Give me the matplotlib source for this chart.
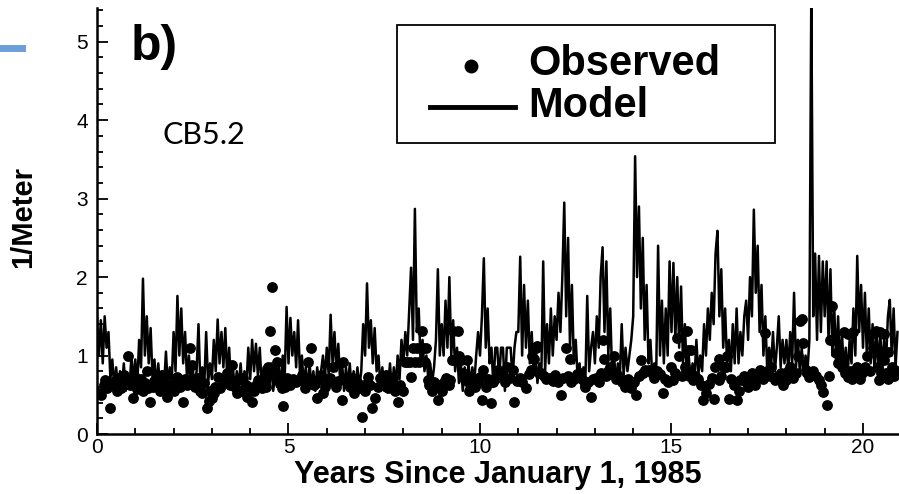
import numpy as np
import matplotlib
matplotlib.use("Agg")
import matplotlib.pyplot as plt
from matplotlib.lines import Line2D
from matplotlib.patches import Rectangle

# ---------------- data ----------------
model_step = 0.05  # years between model samples
model_values = (
    [1.5,1.0,1.45,0.9,1.5,1.1,1.3,0.7,0.95,0.6,0.85,0.55,0.8,0.6,0.9,0.55,0.75,0.6,1.0,0.65] +
    [0.95,0.6,1.2,0.85,1.98,1.0,1.5,0.9,1.35,0.7,0.95,0.6,0.9,0.55,0.8,0.6,1.05,0.6,0.85,0.65] +
    [1.3,0.8,1.76,1.0,1.6,0.9,1.3,0.7,1.0,0.6,0.85,0.55,0.8,1.4,0.6,0.85,0.6,1.3,0.65,0.9] +
    [0.7,1.2,0.8,1.46,0.9,1.3,0.85,1.35,0.7,1.1,0.6,0.85,0.55,0.8,0.6,0.9,0.55,0.8,0.6,1.1] +
    [0.7,1.2,0.8,1.15,0.75,1.1,0.6,0.85,0.55,0.8,0.6,0.9,0.55,0.75,0.6,0.85,0.6,1.0,0.7,1.62] +
    [0.9,1.48,1.0,1.3,0.85,1.45,0.75,1.0,0.6,0.85,0.55,0.9,0.6,0.8,0.55,0.85,0.6,0.8,1.0,0.7] +
    [1.1,0.75,1.52,0.9,1.3,0.8,1.15,0.65,0.9,0.55,0.85,0.6,0.9,0.55,0.8,0.6,0.85,0.6,0.8,1.4] +
    [1.0,1.92,1.1,1.45,0.9,1.35,0.8,1.0,0.6,0.85,0.55,0.8,0.6,0.9,0.55,0.85,0.6,1.0,0.7,1.2] +
    [0.9,1.3,1.0,1.55,2.12,1.2,2.87,1.3,1.6,0.9,1.2,0.8,1.0,0.7,0.9,0.65,0.85,1.2,2.1,1.0] +
    [1.4,1.0,1.7,1.1,2.0,1.0,1.45,0.8,1.1,0.65,0.9,0.55,0.85,0.6,0.9,0.6,0.85,0.65,1.0,1.3] +
    [1.0,1.5,2.24,1.1,1.6,0.9,1.1,0.6,1.1,1.1,0.7,1.1,1.1,0.55,1.1,1.1,1.1,0.7,1.1,1.3] +
    [1.3,2.26,1.0,1.9,1.1,1.7,0.9,1.3,0.75,1.0,0.65,0.9,0.7,2.2,0.8,1.4,0.9,1.6,1.0,1.5] +
    [1.2,1.8,1.3,2.0,2.95,1.5,2.5,1.1,1.9,0.9,1.2,0.7,0.9,0.6,0.85,0.65,1.76,0.8,1.1,1.3] +
    [0.9,1.5,1.1,2.0,2.38,1.3,2.2,1.0,1.6,0.75,1.0,0.65,0.9,0.7,1.4,0.75,1.1,0.8,1.0,1.2] +
    [1.5,3.54,2.0,2.9,1.6,2.5,1.2,1.9,0.9,1.2,0.7,0.9,0.75,2.4,1.0,1.7,0.9,1.6,1.0,2.2] +
    [1.3,2.18,1.2,2.0,1.1,1.88,0.9,1.4,0.75,1.0,0.65,0.9,0.7,1.2,0.75,1.0,0.8,1.4,1.0,1.6] +
    [1.2,1.8,1.4,2.3,2.59,1.5,2.1,1.1,1.6,0.9,1.2,0.8,1.4,0.9,1.6,0.9,1.3,1.0,1.5,1.7] +
    [1.2,2.0,1.5,2.86,1.8,2.4,1.3,1.9,1.0,1.5,0.8,1.1,0.85,1.3,0.8,1.1,1.5,0.85,1.2,0.9] +
    [1.2,0.8,1.3,0.9,1.8,0.85,1.2,0.8,1.1,0.75,1.0,0.8,1.2,5.6,1.5,2.3,1.2,2.27,1.3,2.2] +
    [1.5,2.2,1.2,2.1,1.0,1.6,0.9,1.5,0.8,1.3,0.8,1.1,0.75,1.2,0.9,1.6,1.0,2.27,1.3,1.9] +
    [1.1,1.8,1.0,1.6,0.9,1.4,0.8,1.3,0.85,1.3,0.8,1.2,0.9,1.5,1.71,1.0,1.6,0.85,1.3]
)

obs_years = (
    [0.03,0.10,0.17,0.20,0.27,0.34,0.40,0.47,0.52,0.55,0.62,0.66,0.70,0.76,0.80,0.85,0.90,0.94] +
    [1.00,1.05,1.08,1.15,1.20,1.25,1.30,1.34,1.38,1.45,1.50,1.56,1.60,1.65,1.70,1.75,1.83,1.88,1.92] +
    [2.00,2.05,2.10,2.18,2.24,2.30,2.36,2.42,2.47,2.52,2.55,2.62,2.68,2.74,2.80,2.87,2.92,2.95] +
    [3.00,3.05,3.08,3.16,3.21,3.30,3.35,3.40,3.46,3.52,3.60,3.65,3.68,3.75,3.82,3.88,3.91,3.96] +
    [4.04,4.10,4.15,4.21,4.30,4.35,4.38,4.42,4.47,4.51,4.56,4.60,4.65,4.69,4.74,4.78,4.83,4.86,4.92,4.97] +
    [5.05,5.12,5.20,5.30,5.36,5.43,5.51,5.55,5.60,5.67,5.74,5.78,5.85,5.90,5.95] +
    [6.02,6.08,6.16,6.25,6.30,6.39,6.43,6.48,6.55,6.60,6.66,6.72,6.80,6.85,6.91,6.96] +
    [7.00,7.08,7.13,7.17,7.26,7.33,7.38,7.43,7.50,7.55,7.60,7.68,7.73,7.78,7.86,7.92] +
    [8.00,8.04,8.10,8.16,8.20,8.25,8.30,8.35,8.40,8.45,8.48,8.52,8.56,8.60,8.64,8.68,8.74,8.80,8.85,8.90,8.95] +
    [9.00,9.06,9.12,9.18,9.22,9.27,9.30,9.35,9.43,9.45,9.50,9.55,9.60,9.65,9.70,9.76,9.82,9.88,9.95] +
    [10.00,10.04,10.08,10.16,10.22,10.29,10.35,10.40,10.47,10.53,10.60,10.66,10.70,10.78,10.86,10.90,10.96] +
    [11.04,11.10,11.20,11.27,11.33,11.36,11.40,11.46,11.50,11.55,11.60,11.66,11.72,11.82,11.90,11.96] +
    [12.03,12.11,12.18,12.24,12.30,12.35,12.38,12.45,12.52,12.60,12.66,12.74,12.82,12.90,12.96] +
    [13.04,13.10,13.15,13.20,13.25,13.30,13.35,13.40,13.47,13.50,13.55,13.62,13.70,13.78,13.86,13.95] +
    [14.02,14.07,14.14,14.20,14.25,14.32,14.40,14.48,14.55,14.62,14.70,14.78,14.84,14.92] +
    [14.99,15.05,15.10,15.15,15.20,15.28,15.35,15.40,15.43,15.45,15.50,15.55,15.62,15.70,15.76,15.83,15.90,15.99] +
    [16.05,16.10,16.14,16.23,16.25,16.30,16.36,16.43,16.45,16.50,16.56,16.62,16.70,16.76,16.80,16.88,16.94] +
    [17.00,17.06,17.10,17.18,17.25,17.32,17.38,17.44,17.50,17.56,17.60,17.70,17.78,17.85,17.92] +
    [18.00,18.05,18.10,18.18,18.24,18.30,18.35,18.40,18.43,18.50,18.55,18.60,18.70,18.78,18.85,18.90,18.96] +
    [19.05,19.10,19.15,19.20,19.25,19.30,19.35,19.38,19.40,19.45,19.50,19.52,19.60,19.60,19.66,19.72,19.75,19.80,19.85,19.86,19.92,19.98] +
    [20.05,20.10,20.18,20.25,20.28,20.35,20.38,20.40,20.42,20.45,20.48,20.55,20.55,20.55,20.60,20.65,20.66,20.75,20.82,20.88]
)
obs_values = (
    [0.52,0.50,0.62,0.69,0.58,0.33,0.62,0.68,0.55,0.72,0.58,0.70,0.75,0.64,1.00,0.62,0.70,0.46] +
    [0.73,0.57,0.62,0.70,0.55,0.65,0.80,0.58,0.41,0.60,0.68,0.73,0.62,0.55,0.75,0.68,0.47,0.58,0.62] +
    [0.55,0.66,0.73,0.60,0.41,0.70,0.62,1.10,0.88,0.68,0.60,0.72,0.55,0.52,0.65,0.33,0.42,0.55] +
    [0.46,0.52,0.60,0.73,0.59,0.65,0.70,0.78,0.62,0.88,0.60,0.52,0.69,0.55,0.72,0.62,0.47,0.60] +
    [0.41,0.55,0.62,0.69,0.59,0.66,0.75,0.60,0.86,1.31,1.87,0.80,1.07,0.92,0.72,0.65,0.58,0.36,0.60,0.72] +
    [0.62,0.70,0.66,0.69,0.75,0.59,0.92,0.68,1.10,0.62,0.46,0.69,0.75,0.52,0.60] +
    [0.66,0.72,0.86,0.60,0.68,0.43,0.92,0.70,0.64,0.60,0.72,0.52,0.66,0.59,0.22,0.62] +
    [0.55,0.73,0.62,0.33,0.46,0.60,0.72,0.69,0.62,0.75,0.59,0.66,0.72,0.55,0.41,0.62] +
    [0.55,0.92,0.92,0.92,0.73,1.10,0.92,1.10,0.92,1.10,1.31,1.10,0.92,1.10,0.69,0.62,0.55,0.66,0.60,0.43,0.62] +
    [0.55,0.66,0.72,0.62,0.69,0.94,1.31,0.94,1.31,1.00,0.94,0.78,0.69,0.94,0.55,0.66,0.72,0.60,0.66] +
    [0.73,0.43,0.82,0.60,0.70,0.40,0.66,0.70,0.82,0.74,0.75,0.66,0.86,0.72,0.82,0.41,0.68] +
    [0.72,0.66,0.59,0.76,0.82,1.00,0.95,1.10,1.12,0.78,0.78,0.74,0.70,0.72,0.68,0.75] +
    [0.66,0.50,0.72,1.10,0.74,0.95,0.66,0.70,0.76,0.78,0.70,0.60,0.66,0.47,0.70] +
    [0.72,0.66,0.78,1.20,0.95,0.74,0.80,0.86,0.76,1.00,0.70,0.74,0.66,0.60,0.70,0.59] +
    [0.66,0.50,0.74,0.94,0.78,0.82,0.82,0.78,0.72,0.80,0.76,0.52,0.70,0.66] +
    [0.86,0.69,0.78,1.22,0.99,0.74,0.86,1.31,1.07,0.74,1.07,0.69,0.74,0.70,0.62,0.43,0.52,0.64] +
    [0.72,0.45,0.86,0.69,0.95,0.74,0.86,0.86,1.00,0.45,0.70,0.62,0.43,0.55,0.69,0.74,0.66] +
    [0.60,0.70,0.78,0.62,0.74,0.82,0.70,1.29,0.80,0.74,0.86,0.69,0.74,0.78,0.62] +
    [0.69,0.80,0.86,0.72,0.78,0.99,1.44,1.46,1.16,0.82,0.78,0.73,0.80,0.74,0.69,0.62,0.54] +
    [0.37,0.74,1.20,1.63,1.20,1.03,0.90,0.90,0.98,0.86,1.30,0.78,0.73,1.28,0.80,0.70,1.30,0.82,0.86,0.74,0.70,0.78] +
    [0.86,0.99,0.80,1.10,1.29,1.31,0.86,1.07,0.69,1.30,0.78,0.74,1.28,0.94,0.78,1.05,0.70,0.86,0.74,0.80]
)

x_major = [0, 5, 10, 15, 20]
y_major = [0, 1, 2, 3, 4, 5]

# ---------------- figure ----------------
W, H = 899, 494
fig = plt.figure(figsize=(W / 100, H / 100), dpi=100)
ax = fig.add_axes([97 / W, (H - 434) / H, 1 - 97 / W, (434 - 8) / H])

sans = ['Liberation Sans', 'DejaVu Sans']

model_t = np.arange(len(model_values)) * model_step
ax.plot(model_t, model_values, color='black', lw=1.8, zorder=2)
ax.plot(obs_years, obs_values, 'o', color='black', ms=7.8, mew=0, zorder=3)

ax.set_xlim(0, 20.94)
ax.set_ylim(0, 5.43)
ax.set_xticks(x_major)
ax.set_xticks(np.arange(0, 21, 1), minor=True)
ax.set_yticks(y_major)
ax.set_yticks(np.arange(0, 5.41, 0.2), minor=True)
ax.tick_params(which='both', direction='in', width=1.3, colors='black')
ax.tick_params(which='major', length=8, labelsize=15)
ax.tick_params(which='minor', length=4.5)
ax.tick_params(axis='x', pad=3)
ax.tick_params(axis='y', pad=6.5)
for lab in ax.get_xticklabels() + ax.get_yticklabels():
    lab.set_family(sans)

for s in ['top', 'right']:
    ax.spines[s].set_visible(False)
for s in ['left', 'bottom']:
    ax.spines[s].set_linewidth(1.8)

ax.set_xlabel('Years Since January 1, 1985', fontsize=22, fontweight='bold',
              family=sans, labelpad=2)
ax.set_ylabel('1/Meter', fontsize=21, fontweight='bold', family=sans)
ax.yaxis.set_label_coords(-60 / (W - 97), 0.51)

fig.text(131 / W, 1 - 60 / H, 'b)', fontsize=36, fontweight='bold', family=sans)
fig.text(163 / W, 1 - 144 / H, 'CB5.2', fontsize=22, family=['Lato', 'DejaVu Sans'])

# legend box (figure pixel geometry)
fig.patches.append(Rectangle((397 / W, 1 - 143 / H), (775 - 397) / W, (143 - 25) / H,
                             transform=fig.transFigure, fill=True, facecolor='white',
                             edgecolor='black', lw=1.3, zorder=5))
fig.add_artist(Line2D([471 / W], [1 - 66 / H], marker='o', ms=10, color='black',
                      mew=0, ls='none', transform=fig.transFigure, zorder=6))
fig.add_artist(Line2D([430 / W, 515 / W], [1 - 107 / H, 1 - 107 / H], color='black',
                      lw=3.5, transform=fig.transFigure, zorder=6))
fig.text(528 / W, 1 - 64 / H, 'Observed', fontsize=30, fontweight='bold', va='center',
         family=sans, zorder=6)
fig.text(528 / W, 1 - 106 / H, 'Model', fontsize=30, fontweight='bold', va='center',
         family=sans, zorder=6)

# small blue mark at left edge
fig.add_artist(Line2D([0, 22 / W], [1 - 48 / H, 1 - 48 / H], color='#6a9fd8', lw=5,
                      transform=fig.transFigure))

fig.savefig('out.png', dpi=100)
